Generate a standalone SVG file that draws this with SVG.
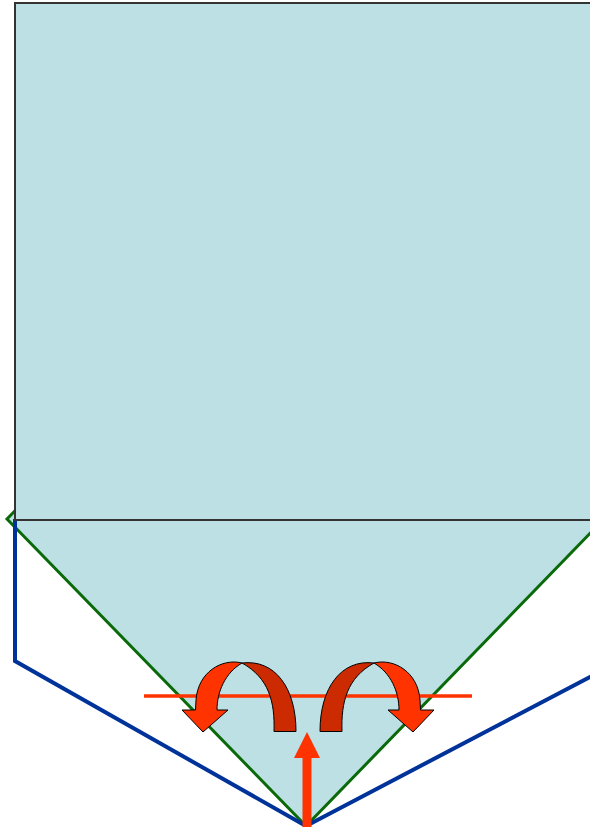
<svg xmlns="http://www.w3.org/2000/svg" width="590" height="827" viewBox="0 0 590 827">
<defs>
<style>
.green{fill:#BCE0E3;stroke:#0A6A0A;stroke-width:3}
.rect{fill:#BCE0E3;stroke:#333333;stroke-width:2}
.blue{fill:none;stroke:#003399;stroke-width:4;stroke-linejoin:miter}
.redline{stroke:#FF3300;stroke-width:3.5;fill:none}
.bright{fill:#FF3300;stroke:#000;stroke-width:1;stroke-linejoin:round}
.dark{fill:#CC2A00;stroke:#000;stroke-width:1;stroke-linejoin:round}
</style>
<g id="curl">
<path class="dark" d="M274,731.5 C275,702 269,678 242,663 C275,659 296,688 296,731.5 Z"/>
<path class="bright" d="M242,663 C222,658 198,672 196,700 L195.5,710 L182,710 L203,732 L228,710 L217,710 C217,692 225,673 242,663 Z"/>
</g>
</defs>
<g id="diamond">
<polygon class="green" points="7,519 306,826 604,519 306,212"/>
</g>
<g id="blue-outline">
<polyline class="blue" points="15,519 15,661 306,826 592,676"/>
</g>
<g id="sheet">
<rect class="rect" x="15" y="3" width="600" height="517"/>
</g>
<g id="connectors">
<line class="redline" x1="144" y1="696" x2="472" y2="696"/>
<use href="#curl"/>
<use href="#curl" transform="translate(616,0) scale(-1,1)"/>
<polygon points="307,732 294,758 320,758" fill="#FF3300"/>
<rect x="302.5" y="756" width="9" height="71" fill="#FF3300"/>
</g>
</svg>
